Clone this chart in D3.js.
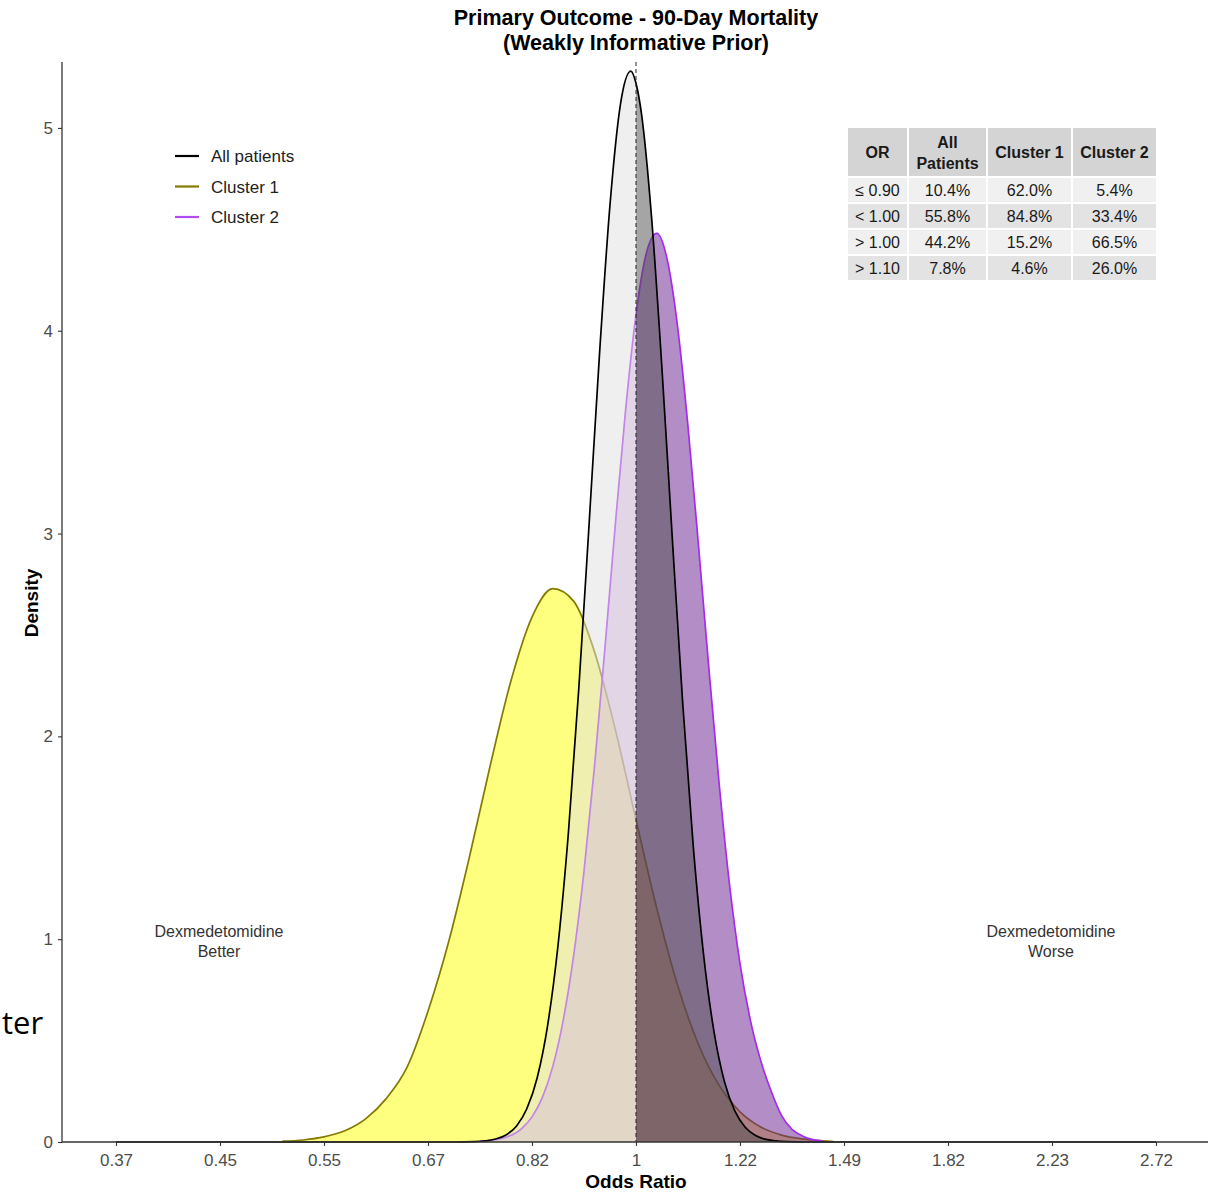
<!DOCTYPE html>
<html>
<head>
<meta charset="utf-8">
<script src="https://cdn.jsdelivr.net/npm/d3@7"></script>
<style>
  body { margin: 0; background: #ffffff; }
  text { font-family: "Liberation Sans", Arial, sans-serif; }
</style>
</head>
<body>
<div id="chart"></div>
<script>
// x values are log(odds ratio), y values are posterior density
var allLogOR = [-1.00, -0.35, -0.31, -0.27, -0.25, -0.23, -0.21, -0.19, -0.17, -0.15, -0.13, -0.11, -0.09, -0.07, -0.05, -0.03, -0.01, 0.00, 0.01, 0.03, 0.05, 0.07, 0.09, 0.11, 0.13, 0.15, 0.17, 0.19, 0.21, 0.23, 0.25, 0.29, 0.33, 1.00];
var allDensity = [0, 0, 0.002, 0.015, 0.035, 0.078, 0.164, 0.317, 0.574, 0.969, 1.525, 2.236, 3.055, 3.892, 4.621, 5.115, 5.28, 5.22, 5.08, 4.557, 3.81, 2.969, 2.157, 1.461, 0.923, 0.544, 0.298, 0.153, 0.073, 0.032, 0.013, 0.002, 0, 0];

var cluster1LogOR = [-0.68, -0.64, -0.60, -0.56, -0.52, -0.48, -0.44, -0.40, -0.36, -0.32, -0.28, -0.24, -0.20, -0.16, -0.12, -0.08, -0.04, 0.00, 0.04, 0.08, 0.12, 0.16, 0.20, 0.24, 0.28, 0.32, 0.36, 0.38];
var cluster1Density = [0.004, 0.010, 0.025, 0.055, 0.114, 0.215, 0.370, 0.645, 0.990, 1.409, 1.860, 2.278, 2.588, 2.728, 2.667, 2.419, 2.036, 1.589, 1.151, 0.773, 0.482, 0.279, 0.149, 0.074, 0.034, 0.015, 0.006, 0.002];

var cluster2LogOR = [-0.30, -0.26, -0.22, -0.20, -0.18, -0.16, -0.14, -0.12, -0.10, -0.08, -0.06, -0.04, -0.02, 0.00, 0.02, 0.04, 0.06, 0.08, 0.10, 0.12, 0.14, 0.16, 0.18, 0.20, 0.22, 0.24, 0.26, 0.28, 0.30, 0.32, 0.34, 0.36];
var cluster2Density = [0.003, 0.016, 0.066, 0.124, 0.220, 0.373, 0.600, 0.918, 1.335, 1.847, 2.428, 3.037, 3.610, 4.080, 4.384, 4.480, 4.351, 4.019, 3.528, 2.946, 2.339, 1.764, 1.266, 0.880, 0.600, 0.400, 0.250, 0.130, 0.062, 0.030, 0.012, 0.004];

var xTickValues = [-1, -0.8, -0.6, -0.4, -0.2, 0, 0.2, 0.4, 0.6, 0.8, 1];
var xTickLabels = ["0.37", "0.45", "0.55", "0.67", "0.82", "1", "1.22", "1.49", "1.82", "2.23", "2.72"];
var yTickValues = [0, 1, 2, 3, 4, 5];

var legendNames = ["All patients", "Cluster 1", "Cluster 2"];

var tableHeader = [["OR"], ["All", "Patients"], ["Cluster 1"], ["Cluster 2"]];
var tableRows = [
	["\u2264 0.90", "10.4%", "62.0%", "5.4%"],
	["< 1.00", "55.8%", "84.8%", "33.4%"],
	["> 1.00", "44.2%", "15.2%", "66.5%"],
	["> 1.10", "7.8%", "4.6%", "26.0%"]
];

function createDensityChart() {
	const W = 1215, H = 1192;
	const plot = { left: 62, right: 1208, top: 62, bottom: 1142 };

	const x = d3.scaleLinear().domain([-1.1, 1.1]).range([64, 1208]);
	const y = d3.scaleLinear().domain([0, 5.325]).range([plot.bottom, plot.top]);

	const svg = d3.select("#chart").append("svg")
		.attr("width", W)
		.attr("height", H)
		.style("background", "#ffffff");

	const series = [
		{ xs: cluster1LogOR, ys: cluster1Density, leftFill: "#ffff00", rightFill: "#f5c400", stroke: "#857a00" },
		{ xs: cluster2LogOR, ys: cluster2Density, leftFill: "#c999d9", rightFill: "#671d8d", stroke: "#a52af0" },
		{ xs: allLogOR, ys: allDensity, leftFill: "#e0e0e0", rightFill: "#4b4b4b", stroke: "#000000" }
	];

	const area = d3.area()
		.x(d => x(d.x))
		.y0(y(0))
		.y1(d => y(d.y))
		.curve(d3.curveMonotoneX);

	const line = d3.line()
		.x(d => x(d.x))
		.y(d => y(d.y))
		.curve(d3.curveMonotoneX);

	series.forEach(s => {
		const pts = s.xs.map((v, i) => ({ x: v, y: s.ys[i] }));
		const left = pts.filter(p => p.x <= 0);
		const right = pts.filter(p => p.x >= 0);

		svg.append("path")
			.datum(left)
			.attr("d", area)
			.attr("fill", s.leftFill)
			.attr("fill-opacity", 0.5);

		svg.append("path")
			.datum(right)
			.attr("d", area)
			.attr("fill", s.rightFill)
			.attr("fill-opacity", 0.5);

		svg.append("path")
			.datum(pts)
			.attr("d", line)
			.attr("fill", "none")
			.attr("stroke", s.stroke)
			.attr("stroke-width", 1.7);
	});

	// reference line at OR = 1
	svg.append("line")
		.attr("x1", x(0))
		.attr("x2", x(0))
		.attr("y1", plot.top)
		.attr("y2", plot.bottom)
		.attr("stroke", "#222")
		.attr("stroke-width", 1)
		.attr("stroke-dasharray", "4,3");

	// axes
	const xAxis = svg.append("g")
		.attr("transform", "translate(0," + plot.bottom + ")")
		.call(d3.axisBottom(x)
			.tickValues(xTickValues)
			.tickFormat((d, i) => xTickLabels[i])
			.tickSize(4)
			.tickSizeOuter(0));
	xAxis.select(".domain").attr("d", "M" + plot.left + ",0H" + plot.right);

	const yAxis = svg.append("g")
		.attr("transform", "translate(" + plot.left + ",0)")
		.call(d3.axisLeft(y)
			.tickValues(yTickValues)
			.tickFormat(d3.format("d"))
			.tickSize(4)
			.tickSizeOuter(0));
	yAxis.select(".domain").attr("d", "M0," + plot.top + "V" + plot.bottom);

	[xAxis, yAxis].forEach(g => {
		g.select(".domain").attr("stroke", "#333").attr("stroke-width", 1.3);
		g.selectAll(".tick line").attr("stroke", "#333").attr("stroke-width", 1.1);
		g.selectAll(".tick text")
			.attr("fill", "#4d4d4d")
			.style("font-size", "17px")
			.style("font-family", "'Liberation Sans', Arial, sans-serif");
	});
	xAxis.selectAll(".tick text").attr("dy", "0.95em").attr("y", 8);
	yAxis.selectAll(".tick text").attr("x", -9);

	// titles
	svg.append("text")
		.attr("x", 636).attr("y", 25)
		.attr("text-anchor", "middle")
		.style("font-size", "21.5px").style("font-weight", "bold")
		.text("Primary Outcome - 90-Day Mortality");
	svg.append("text")
		.attr("x", 636).attr("y", 50)
		.attr("text-anchor", "middle")
		.style("font-size", "21.5px").style("font-weight", "bold")
		.text("(Weakly Informative Prior)");

	svg.append("text")
		.attr("x", 636).attr("y", 1188)
		.attr("text-anchor", "middle")
		.style("font-size", "19px").style("font-weight", "bold")
		.text("Odds Ratio");

	svg.append("text")
		.attr("transform", "translate(38,603) rotate(-90)")
		.attr("text-anchor", "middle")
		.style("font-size", "19px").style("font-weight", "bold")
		.text("Density");

	// annotations
	[["Dexmedetomidine", "Better", 219], ["Dexmedetomidine", "Worse", 1051]].forEach(a => {
		const t = svg.append("text")
			.attr("text-anchor", "middle")
			.attr("fill", "#333")
			.style("font-size", "16px");
		t.append("tspan").attr("x", a[2]).attr("y", 937).text(a[0]);
		t.append("tspan").attr("x", a[2]).attr("y", 957).text(a[1]);
	});

	// legend
	const legendColors = ["#000000", "#857a00", "#b24cf0"];
	legendNames.forEach((name, i) => {
		const ly = 156 + i * 30.5;
		svg.append("line")
			.attr("x1", 175).attr("x2", 199)
			.attr("y1", ly).attr("y2", ly)
			.attr("stroke", legendColors[i])
			.attr("stroke-width", 2.2);
		svg.append("text")
			.attr("x", 211).attr("y", ly + 6)
			.attr("fill", "#222")
			.style("font-size", "17px")
			.text(name);
	});

	// summary table
	const colEdges = [847, 908, 987, 1072, 1157];
	const headTop = 128, headBottom = 176, rowH = 26;
	const table = svg.append("g");
	tableHeader.forEach((lines, c) => {
		table.append("rect")
			.attr("x", colEdges[c] + 1).attr("y", headTop)
			.attr("width", colEdges[c + 1] - colEdges[c] - 2)
			.attr("height", headBottom - headTop)
			.attr("fill", "#d4d4d4");
		const cx = (colEdges[c] + colEdges[c + 1]) / 2;
		const t = table.append("text")
			.attr("text-anchor", "middle")
			.attr("fill", "#1a1a1a")
			.style("font-size", "16px").style("font-weight", "bold");
		const startY = lines.length === 1 ? 158 : 148;
		lines.forEach((ln, k) => {
			t.append("tspan").attr("x", cx).attr("y", startY + k * 21).text(ln);
		});
	});
	tableRows.forEach((row, r) => {
		const ry = headBottom + 2 + r * rowH;
		row.forEach((val, c) => {
			table.append("rect")
				.attr("x", colEdges[c] + 1).attr("y", ry)
				.attr("width", colEdges[c + 1] - colEdges[c] - 2)
				.attr("height", rowH - 2)
				.attr("fill", r % 2 === 0 ? "#f0f0f0" : "#e3e3e3");
			table.append("text")
				.attr("x", (colEdges[c] + colEdges[c + 1]) / 2)
				.attr("y", ry + 18)
				.attr("text-anchor", "middle")
				.attr("fill", "#1a1a1a")
				.style("font-size", "16px")
				.text(val);
		});
	});

	// leftover slide text at the left edge
	svg.append("text")
		.attr("x", 2).attr("y", 1034)
		.style("font-family", "'Open Sans', 'Noto Sans', sans-serif")
		.style("font-size", "31px")
		.attr("fill", "#000")
		.text("ter");
}

createDensityChart();
</script>
</body>
</html>
